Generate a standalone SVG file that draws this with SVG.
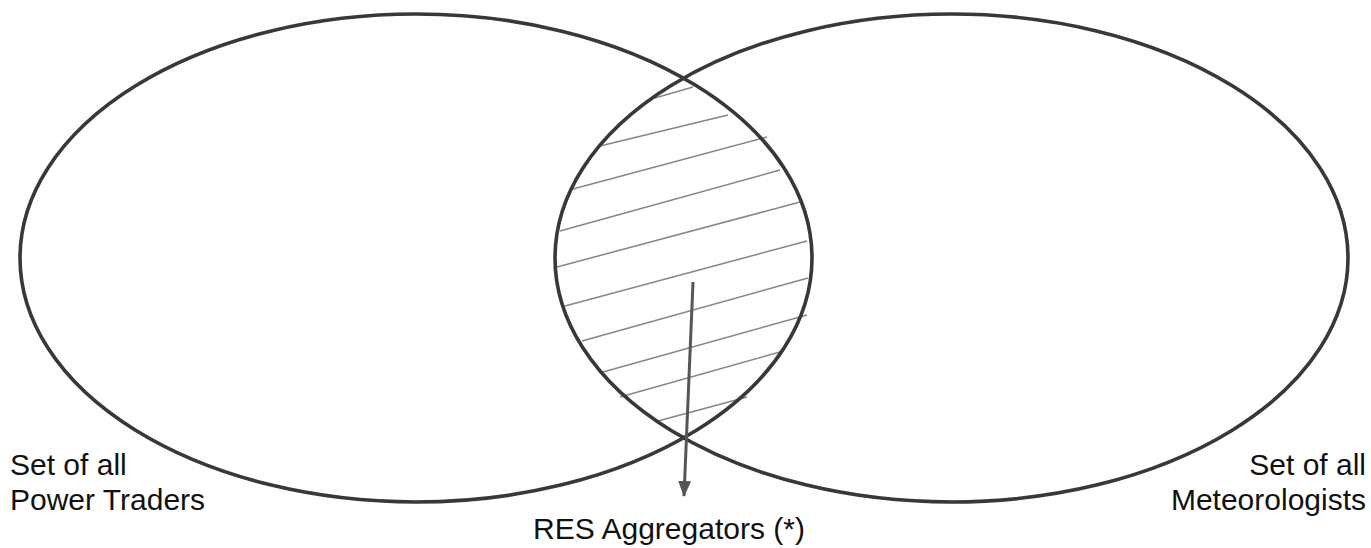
<svg xmlns="http://www.w3.org/2000/svg" width="1371" height="548" viewBox="0 0 1371 548">
<style>
.set{fill:none;stroke:#383838;stroke-width:3.6}
.hatch{stroke:#858585;stroke-width:1.5;fill:none}
.lbl{font-family:"Liberation Sans",Arial,sans-serif;font-size:30px;fill:#111}
.conn{stroke:#555;stroke-width:3;fill:none}
</style>
<defs>
<marker id="arr" markerWidth="16" markerHeight="14" refX="15" refY="7" orient="auto" markerUnits="userSpaceOnUse">
<path d="M0,0.5 L16,7 L0,13.5 Z" fill="#555"/>
</marker>
</defs>
<rect width="1371" height="548" fill="#fff"/>
<g id="hatching">
<line class="hatch" x1="655" y1="98" x2="693" y2="87"/>
<line class="hatch" x1="600" y1="146" x2="728" y2="115"/>
<line class="hatch" x1="573" y1="189" x2="767" y2="137"/>
<line class="hatch" x1="560" y1="231" x2="780" y2="170"/>
<line class="hatch" x1="557" y1="267" x2="800" y2="202"/>
<line class="hatch" x1="565" y1="306" x2="807" y2="241"/>
<line class="hatch" x1="582" y1="341" x2="808" y2="278"/>
<line class="hatch" x1="603" y1="372" x2="807" y2="315"/>
<line class="hatch" x1="620" y1="397" x2="780" y2="352"/>
<line class="hatch" x1="658" y1="421" x2="747" y2="397"/>
</g>
<g id="power-traders">
<ellipse class="set" cx="416" cy="258" rx="396" ry="244"/>
<text class="lbl" x="10" y="475">Set of all</text>
<text class="lbl" x="10" y="510">Power Traders</text>
</g>
<g id="meteorologists">
<ellipse class="set" cx="951.5" cy="258" rx="396.5" ry="244"/>
<text class="lbl" x="1366" y="475" text-anchor="end">Set of all</text>
<text class="lbl" x="1366" y="510" text-anchor="end">Meteorologists</text>
</g>
<g id="res-aggregators">
<text class="lbl" x="669" y="539" text-anchor="middle">RES Aggregators (*)</text>
</g>
<g id="connectors">
<line class="conn" x1="693" y1="282" x2="684" y2="496" marker-end="url(#arr)"/>
</g>
</svg>
